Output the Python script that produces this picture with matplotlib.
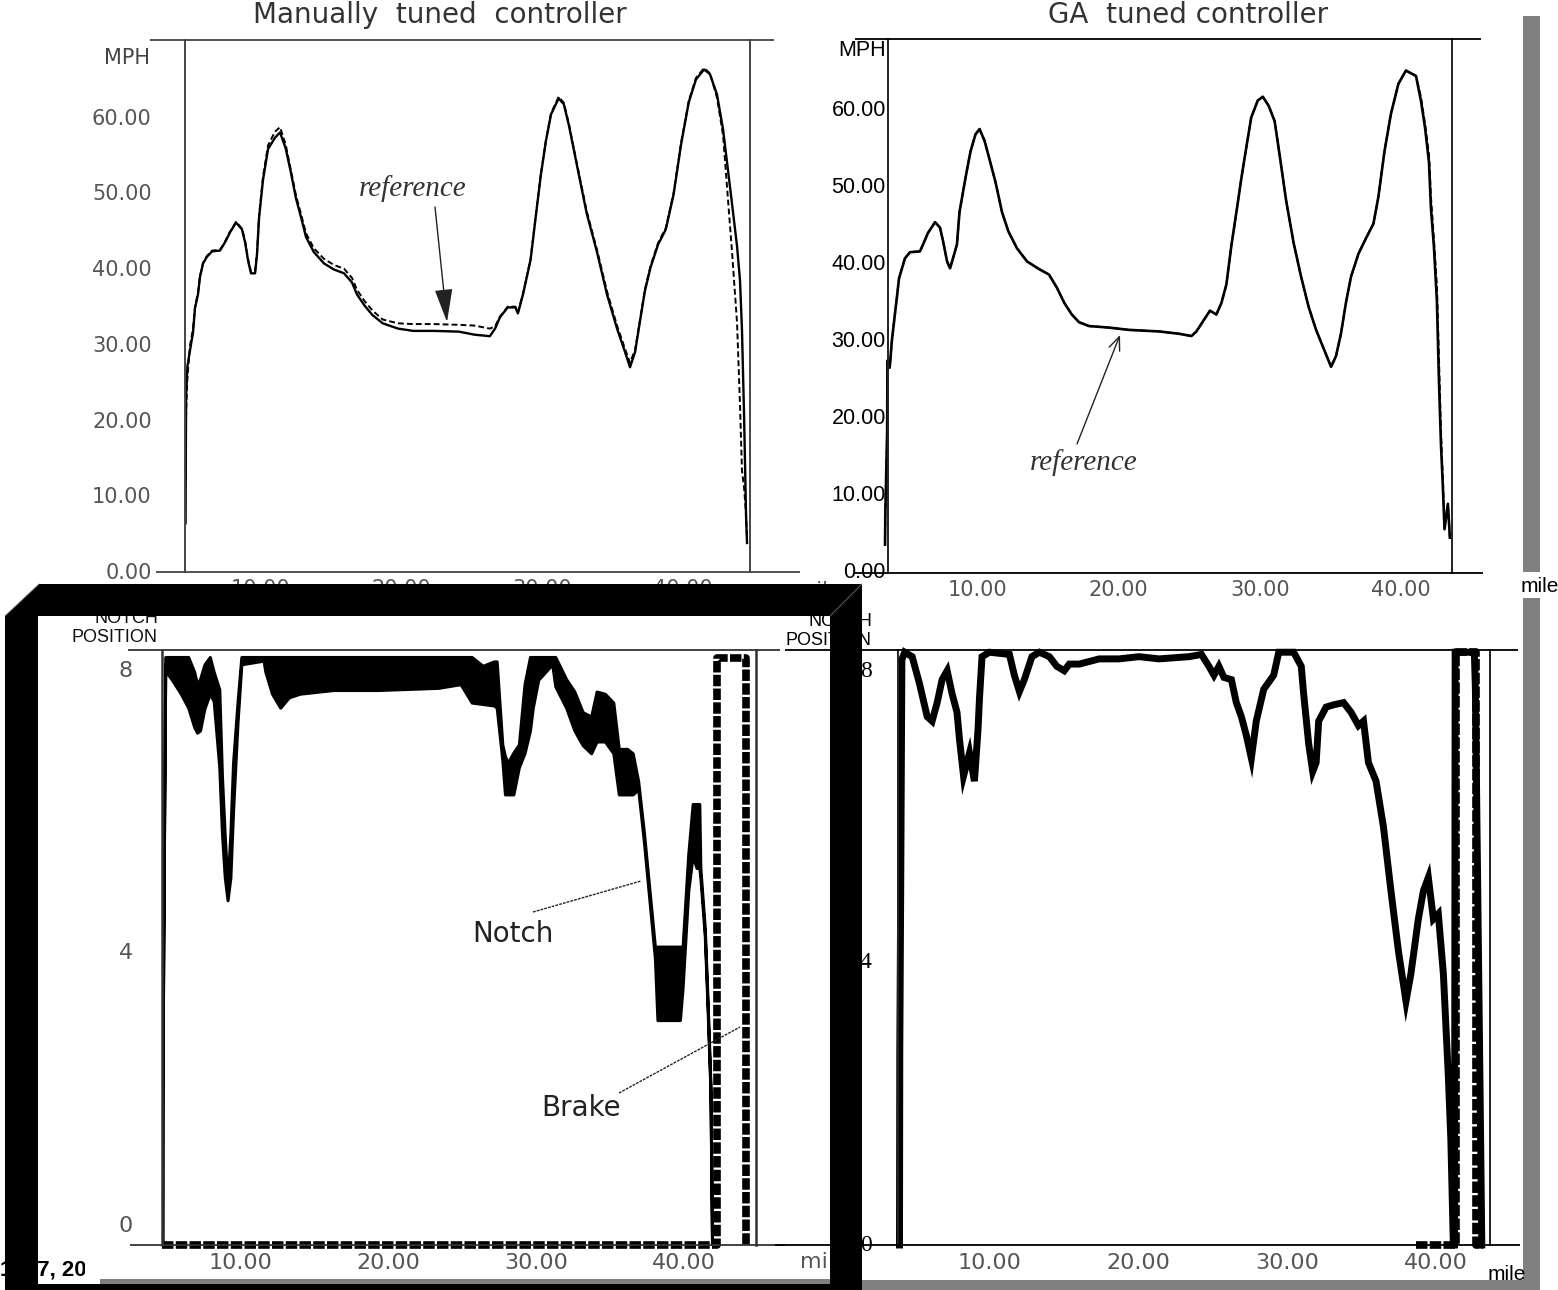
import matplotlib
matplotlib.use("Agg")
import matplotlib.pyplot as plt
from matplotlib.patches import Polygon, Rectangle
from matplotlib.transforms import Bbox, TransformedBbox

# ---------------- data ----------------
# Manually tuned controller: speed (solid) and reference (dashed), miles / MPH
man_mile = [4.72, 4.74, 4.76, 4.85, 5.04, 5.25, 5.39, 5.60, 5.74, 5.96, 6.24, 6.60, 7.16, 7.52, 7.87,
            8.30, 8.72, 8.94, 9.15, 9.36, 9.65, 9.79, 9.93, 10.21, 10.57, 11.06, 11.42, 11.82, 12.18,
            12.55, 12.91, 13.26, 13.82, 14.54, 15.25, 15.96, 16.52, 16.88, 17.43, 17.97, 18.70, 19.79,
            20.85, 22.32, 24.11, 25.21, 26.30, 26.67, 27.02, 27.57, 28.11, 28.29, 28.65, 29.19, 29.55,
            29.91, 30.28, 30.64, 31.18, 31.55, 31.91, 32.45, 33.17, 33.90, 34.61, 35.32, 35.89, 36.24,
            36.60, 36.95, 37.30, 37.70, 38.23, 38.78, 39.33, 39.86, 40.41, 40.92, 41.49, 41.91, 42.41,
            42.84, 43.48, 43.83, 44.04, 44.18, 44.33, 44.47, 44.54]
man_mph = [6.3, 16.0, 23.3, 27.0, 29.2, 31.5, 34.7, 36.5, 38.8, 40.6, 41.5, 42.2, 42.3, 43.4, 44.7,
           46.0, 45.1, 43.4, 41.0, 39.3, 39.3, 41.9, 46.6, 51.6, 55.7, 57.2, 57.9, 55.8, 52.7,
           49.2, 46.7, 44.1, 42.1, 40.6, 39.8, 39.3, 38.1, 36.5, 35.0, 33.8, 32.7, 32.0,
           31.7, 31.7, 31.6, 31.2, 31.0, 32.0, 33.5, 34.8, 34.8, 34.0, 36.5, 41.1, 46.7,
           52.2, 56.8, 60.3, 62.4, 61.6, 58.8, 53.8, 47.2, 42.1, 36.5, 32.0, 28.9, 26.9,
           28.9, 33.0, 37.0, 40.1, 43.1, 45.1, 49.7, 56.3, 61.9, 64.9, 66.2, 65.6, 62.9,
           58.3, 48.4, 42.9, 38.4, 31.9, 20.5, 7.3, 3.7]
man_ref_mph = [12.0, 17.0, 21.0, 25.5, 29.8, 32.0, 34.9, 36.7, 38.9, 40.7, 41.6, 42.3, 42.4, 43.5, 44.8,
               46.1, 45.2, 43.6, 41.2, 39.5, 39.5, 42.0, 46.8, 52.0, 56.2, 58.0, 58.6, 56.3, 53.0,
               49.6, 47.1, 44.6, 42.6, 41.2, 40.4, 39.9, 38.7, 37.1, 35.6, 34.4, 33.2, 32.7,
               32.6, 32.6, 32.5, 32.4, 32.0, 32.3, 33.6, 34.9, 34.9, 34.2, 36.6, 41.2, 46.8,
               52.3, 56.9, 60.4, 62.6, 61.8, 59.0, 54.0, 47.5, 42.4, 36.9, 32.4, 29.3, 27.5,
               29.2, 33.2, 37.2, 40.3, 43.3, 45.3, 49.9, 56.5, 62.1, 65.1, 66.4, 65.7, 62.5,
               57.5, 42.0, 32.8, 22.0, 13.3, 11.0, 7.5, 4.0]

# GA tuned controller: speed (solid) and reference (dashed)
ga_mile = [3.47, 3.49, 3.62, 3.64, 3.80, 3.96, 4.18, 4.32, 4.46, 4.67, 4.88, 5.24, 5.94, 6.16, 6.51,
           7.01, 7.36, 7.57, 7.86, 8.07, 8.28, 8.56, 8.74, 9.16, 9.52, 9.87, 10.16, 10.51, 10.86,
           11.29, 11.75, 12.20, 12.81, 13.52, 14.37, 15.07, 15.63, 16.16, 16.69, 17.20, 17.90, 19.32,
           20.74, 22.86, 24.27, 25.16, 25.51, 26.04, 26.47, 26.92, 27.28, 27.63, 27.98, 28.34, 28.69,
           29.04, 29.39, 29.85, 30.21, 30.63, 31.05, 31.44, 31.86, 32.39, 32.92, 33.45, 33.98, 34.51,
           35.04, 35.39, 35.74, 36.09, 36.45, 36.98, 37.51, 38.04, 38.39, 38.82, 39.28, 39.81, 40.34,
           41.05, 41.40, 41.69, 41.97, 42.11, 42.32, 42.53, 42.67, 42.82, 42.96, 43.07, 43.31, 43.45]
ga_mph = [3.3, 7.3, 17.9, 27.2, 26.3, 29.9, 33.4, 35.6, 37.9, 39.2, 40.5, 41.3, 41.4, 42.3, 43.8,
          45.2, 44.5, 42.8, 40.1, 39.2, 40.5, 42.3, 46.5, 50.9, 54.4, 56.6, 57.3, 55.8, 53.4,
          50.4, 46.5, 44.0, 41.8, 40.1, 39.1, 38.4, 36.7, 34.7, 33.2, 32.2, 31.7, 31.5,
          31.2, 31.0, 30.7, 30.4, 31.0, 32.5, 33.7, 33.2, 34.7, 37.1, 42.1, 46.5, 50.9,
          54.9, 58.8, 61.0, 61.5, 60.3, 58.3, 53.4, 48.0, 42.5, 38.1, 34.2, 31.2, 28.8,
          26.4, 27.8, 30.7, 34.7, 38.1, 41.1, 43.1, 45.0, 48.5, 54.4, 59.3, 63.2, 64.9,
          64.2, 61.0, 57.5, 53.0, 47.0, 42.0, 35.0, 25.0, 16.3, 10.5, 5.3, 8.6, 4.2]
ga_ref_mph = [3.3, 7.3, 17.9, 27.2, 26.3, 29.9, 33.4, 35.6, 37.9, 39.2, 40.5, 41.3, 41.4, 42.3, 43.8,
              45.2, 44.5, 42.8, 40.1, 39.2, 40.5, 42.3, 46.5, 50.9, 54.4, 56.6, 57.3, 55.8, 53.4,
              50.4, 46.5, 44.0, 41.8, 40.1, 39.1, 38.4, 36.7, 34.7, 33.2, 32.2, 31.7, 31.5,
              31.2, 31.0, 30.7, 30.4, 31.0, 32.5, 33.7, 33.2, 34.7, 37.1, 42.1, 46.5, 50.9,
              54.9, 58.8, 61.0, 61.5, 60.3, 58.3, 53.4, 48.0, 42.5, 38.1, 34.2, 31.2, 28.8,
              26.4, 27.8, 30.7, 34.7, 38.1, 41.1, 43.1, 45.0, 48.5, 54.4, 59.3, 63.2, 64.9,
              64.2, 61.5, 58.0, 54.0, 48.5, 43.0, 37.0, 28.0, 18.0, 11.5, 6.0, 8.6, 4.2]

# Manually tuned notch position: envelope of the oscillating notch (upper / lower)
notch_mile = [4.75, 4.76, 4.85, 4.95, 5.0, 5.4, 6.0, 6.5, 6.9, 7.1, 7.3, 7.6, 7.96, 8.22, 8.6, 8.78,
              8.97, 9.16, 9.35, 9.53, 9.83, 10.09, 11.59, 11.71, 12.16, 12.72, 13.3, 14.03, 16.28,
              19.28, 23.4, 24.9, 25.65, 26.4, 27.15, 27.34, 27.72, 27.9, 28.09, 28.47, 28.84, 29.22,
              29.59, 29.78, 30.15, 31.09, 31.3, 32.03, 32.59, 33.15, 33.72, 34.09, 34.65, 35.22,
              35.59, 36.15, 36.53, 36.9, 37.28, 38.03, 38.2, 39.72, 39.9, 40.28, 40.58, 40.84,
              41.03, 41.1, 41.4, 41.59, 41.78, 41.89]
notch_hi = [0, 2.2, 5.1, 8.0, 8.0, 8.0, 8.0, 8.0, 7.8, 7.63, 7.7, 7.9, 8.0, 7.8, 7.56, 6.38,
            5.56, 4.9, 5.6, 6.56, 7.38, 8.0, 8.0, 8.0, 8.0, 8.0, 8.0, 8.0, 8.0,
            8.0, 8.0, 8.0, 8.0, 7.88, 7.94, 7.94, 6.81, 6.65, 6.56, 6.7, 6.81, 7.63,
            8.0, 8.0, 8.0, 8.0, 8.0, 7.7, 7.53, 7.25, 7.19, 7.53, 7.5, 7.38,
            6.75, 6.75, 6.69, 6.31, 5.63, 4.06, 4.06, 4.06, 4.06, 5.31, 6.0, 6.0,
            6.0, 5.13, 4.31, 3.31, 2.19, 0]
notch_lo = [0, 2.2, 5.1, 7.9, 7.8, 7.69, 7.5, 7.31, 7.05, 6.97, 7.0, 7.3, 7.5, 7.4, 6.5, 5.6,
            5.0, 4.69, 5.0, 5.9, 7.1, 7.9, 7.95, 7.8, 7.5, 7.31, 7.45, 7.5, 7.55,
            7.55, 7.58, 7.63, 7.38, 7.36, 7.34, 7.31, 6.6, 6.13, 6.13, 6.13, 6.5, 6.69,
            7.0, 7.31, 7.69, 7.9, 7.6, 7.31, 7.0, 6.8, 6.69, 6.85, 6.85, 6.69,
            6.13, 6.13, 6.13, 6.2, 5.5, 3.9, 3.06, 3.06, 3.5, 4.81, 5.3, 5.13,
            5.13, 5.0, 4.2, 3.2, 2.1, 0]
brake_man_mile = [4.73, 42.2, 42.2, 44.2, 44.2]
brake_man = [0, 0, 7.98, 7.98, 0]

# GA tuned notch position
ga_notch_mile = [3.96, 3.98, 4.05, 4.12, 4.31, 4.81, 5.31, 5.82, 6.15, 6.49, 6.82, 7.16, 7.49, 7.82,
                 7.99, 8.26, 8.66, 8.99, 9.23, 9.33, 9.5, 10.0, 11.34, 11.67, 12.01, 12.34, 12.85,
                 13.35, 14.02, 14.52, 15.02, 15.36, 16.03, 17.37, 18.7, 20.04, 21.38, 23.39, 24.23,
                 24.73, 25.07, 25.4, 25.74, 26.24, 26.57, 26.91, 27.24, 27.58, 27.91, 28.41, 29.08,
                 29.42, 30.42, 30.93, 31.09, 31.43, 31.7, 31.93, 32.1, 32.6, 33.1, 33.77, 34.27,
                 34.77, 35.11, 35.44, 35.95, 36.45, 36.95, 37.45, 37.96, 38.29, 38.79, 39.13, 39.46,
                 39.8, 40.13, 40.47, 40.8, 40.97, 41.14, 41.22, 41.26, 42.55, 42.62, 42.95, 43.05]
ga_notch = [0, 2.6, 5.1, 7.9, 8.0, 7.94, 7.57, 7.13, 7.07, 7.32, 7.63, 7.75, 7.44, 7.19,
            6.82, 6.33, 6.64, 6.26, 6.95, 7.38, 7.94, 8.0, 7.97, 7.69, 7.47, 7.63, 7.94,
            8.0, 7.94, 7.81, 7.75, 7.84, 7.84, 7.91, 7.91, 7.94, 7.91, 7.94, 7.97,
            7.81, 7.69, 7.81, 7.66, 7.63, 7.32, 7.13, 6.88, 6.57, 7.07, 7.5, 7.69,
            8.0, 8.0, 7.81, 7.44, 6.76, 6.39, 6.51, 7.07, 7.26, 7.29, 7.32, 7.19,
            7.01, 7.07, 6.51, 6.26, 5.64, 4.78, 3.97, 3.29, 3.66, 4.4, 4.78, 4.96,
            4.4, 4.47, 3.66, 2.29, 1.43, 0, 0, 8.0, 8.0, 7.5, 1.8, 0]
brake_ga_mile = [38.6, 41.3, 41.3, 42.68, 42.68, 43.1]
brake_ga = [0, 0, 8.0, 8.0, 0, 0]

speed_ticks = [0, 10, 20, 30, 40, 50, 60]
mile_ticks = [10, 20, 30, 40]

# ---------------- figure ----------------
W, H = 1558, 1290
fig = plt.figure(figsize=(W / 100, H / 100), dpi=100)
fig.patch.set_facecolor("white")
GREY = "#555555"


def px_axes(x0, y0, x1, y1):
    return fig.add_axes([x0 / W, 1 - y1 / H, (x1 - x0) / W, (y1 - y0) / H], zorder=1)


def setup(ax, xlim, ylim, spine_color, lw=1.4):
    ax.set_xlim(*xlim)
    ax.set_ylim(*ylim)
    ax.patch.set_alpha(0)
    for s in ("top", "bottom"):
        ax.spines[s].set_visible(False)
    for s in ("left", "right"):
        ax.spines[s].set_color(spine_color)
        ax.spines[s].set_linewidth(lw)
    ax.tick_params(length=0)


# --- top-left: manually tuned speed
ax1 = px_axes(185, 40, 750, 572)
setup(ax1, (4.68, 44.75), (-0.13, 70.1), "#444444")
ax1.plot(man_mile, man_ref_mph, color="black", lw=1.4, ls=(0, (3, 1.6)))
ax1.plot(man_mile, man_mph, color="black", lw=1.7)
ax1.set_yticks(speed_ticks, [f"{v:.2f}" for v in speed_ticks], fontsize=15,
               family="DejaVu Sans", color=GREY)
ax1.set_xticks(mile_ticks, [f"{v:.2f}" for v in mile_ticks], fontsize=15,
               family="DejaVu Sans", color=GREY)
ax1.tick_params(axis="y", pad=24)
ax1.tick_params(axis="x", pad=5)

# --- top-right: GA tuned speed
ax2 = px_axes(888, 39, 1452, 573)
setup(ax2, (3.68, 43.6), (-0.39, 69.0), "#222222")
ax2.plot(ga_mile, ga_ref_mph, color="black", lw=1.4, ls=(0, (3, 1.6)), clip_on=False)
ax2.plot(ga_mile, ga_mph, color="black", lw=1.9, clip_on=False)
ax2.set_yticks(speed_ticks, [f"{v:.2f}" for v in speed_ticks], fontsize=15.5,
               family="Liberation Sans", color="black")
ax2.set_xticks(mile_ticks, [f"{v:.2f}" for v in mile_ticks], fontsize=15,
               family="DejaVu Sans", color=GREY)
ax2.tick_params(axis="y", pad=1.5)
ax2.tick_params(axis="x", pad=5)

# --- bottom-left: manual notch / brake
ax3 = px_axes(162, 650, 756, 1245)
setup(ax3, (4.73, 44.86), (0, 8.095), "#333333", lw=1.8)
ax3.fill_between(notch_mile, notch_lo, notch_hi, facecolor="black", edgecolor="black", lw=2.2)
ax3.plot(brake_man_mile, brake_man, color="black", lw=5.5, ls=(0, (1.5, 0.3)),
         dash_capstyle="butt", clip_on=False)
ax3.set_yticks([0.29, 4.0, 7.84], ["0", "4", "8"], fontsize=16, family="DejaVu Sans", color=GREY)
ax3.set_xticks(mile_ticks, [f"{v:.2f}" for v in mile_ticks], fontsize=16,
               family="DejaVu Sans", color=GREY)
ax3.tick_params(axis="y", pad=21)
ax3.tick_params(axis="x", pad=6)

# --- bottom-right: GA notch / brake
ax4 = px_axes(898, 650, 1490, 1245)
setup(ax4, (3.86, 43.6), (0, 8.03), "#222222")
ax4.plot(brake_ga_mile, brake_ga, color="black", lw=5.5, ls=(0, (1.5, 0.3)),
         dash_capstyle="butt", clip_on=False)
ax4.plot(ga_notch_mile, ga_notch, color="black", lw=5, solid_joinstyle="miter", clip_on=False)
ax4.set_yticks([0.03, 3.85, 7.78], ["0", "4", "8"], fontsize=17, family="Liberation Serif",
               color="black")
ax4.set_xticks(mile_ticks, [f"{v:.2f}" for v in mile_ticks], fontsize=16,
               family="DejaVu Sans", color=GREY)
ax4.tick_params(axis="y", pad=19)
ax4.tick_params(axis="x", pad=6)

# ---------------- overlay (pixel coordinates) ----------------
ov = fig.add_axes([0, 0, 1, 1], zorder=10)
ov.set_xlim(0, W)
ov.set_ylim(H, 0)
ov.axis("off")


def hline(x0, x1, y, color="#333333", lw=1.3):
    ov.plot([x0, x1], [y, y], color=color, lw=lw, solid_capstyle="butt")


hline(150, 774, 40, "#444444")
hline(156, 800, 572, "#444444")
hline(855, 1481, 39, "black")
hline(855, 1483, 573, "black")
hline(128, 780, 650)
hline(130, 785, 1245)
hline(785, 1518, 650, "black")
hline(775, 1520, 1245, "black")

# titles
ov.text(440, 15, "Manually  tuned  controller", ha="center", va="center", fontsize=20,
        family="DejaVu Sans", color="#333333")
ov.text(1188, 15, "GA  tuned controller", ha="center", va="center", fontsize=20,
        family="DejaVu Sans", color="#333333")

# axis labels
ov.text(127, 58, "MPH", ha="center", va="center", fontsize=15, family="DejaVu Sans", color="#444444")
ov.text(886, 51, "MPH", ha="right", va="center", fontsize=15.5, family="Liberation Sans", color="black")
ov.text(796, 591, "mile", ha="left", va="center", fontsize=15, family="DejaVu Sans", color=GREY)
ov.text(1521, 587, "mile", ha="left", va="center", fontsize=15, family="Liberation Sans", color="black")
ov.text(800, 1262, "mile", ha="left", va="center", fontsize=16, family="DejaVu Sans", color=GREY)
ov.text(1488, 1274, "mile", ha="left", va="center", fontsize=15, family="Liberation Sans",
        color="black", zorder=25)
ov.text(158, 628, "NOTCH\nPOSITION", ha="right", va="center", fontsize=13, linespacing=1.15,
        family="Liberation Sans", color="#111111")
ov.text(872, 631, "NOTCH\nPOSITION", ha="right", va="center", fontsize=13, linespacing=1.15,
        family="Liberation Sans", color="black")

# annotations
ov.text(413, 189, "reference", ha="center", va="center", fontsize=21, style="italic",
        family="Liberation Serif", color="#333333")
ov.annotate("", xy=(447, 322), xytext=(435, 207),
            arrowprops=dict(arrowstyle="-|>,head_length=1.3,head_width=0.35", mutation_scale=16,
                            lw=1.0, color="#222222", shrinkA=0, shrinkB=0))
ov.text(1084, 463, "reference", ha="center", va="center", fontsize=21, style="italic",
        family="Liberation Serif", color="#333333")
ov.annotate("", xy=(1120, 335), xytext=(1077, 444),
            arrowprops=dict(arrowstyle="->,head_length=0.6,head_width=0.25", mutation_scale=16,
                            lw=1.0, color="#222222", shrinkA=0, shrinkB=0))
ov.text(513, 934, "Notch", ha="center", va="center", fontsize=20, family="DejaVu Sans", color="#222222")
ov.plot([533, 641], [912, 881], color="#222222", lw=1.0, ls=(0, (2, 0.8)))
ov.text(581, 1108, "Brake", ha="center", va="center", fontsize=20, family="DejaVu Sans", color="#222222")
ov.plot([619, 740], [1093, 1027], color="#222222", lw=1.0, ls=(0, (2, 0.8)))

# partly hidden caption text at the bottom-left
t = ov.text(0, 1270, "1997, 2000", ha="left", va="center", fontsize=16, fontweight="bold",
            family="Liberation Sans", color="black", zorder=15)
t.set_clip_box(TransformedBbox(Bbox([[0, 1240], [85, 1290]]), ov.transData))
t.set_clip_on(True)

# black bevelled frame
ov.add_patch(Polygon([(39, 584), (862, 584), (862, 1290), (830, 1290), (830, 616), (38, 616),
                      (38, 1290), (5, 1290), (5, 616)], closed=True, facecolor="black",
                     edgecolor="none", zorder=20))
ov.plot([39, 5], [584, 616], color="#777777", lw=0.6, zorder=21)
ov.plot([862, 830], [584, 616], color="#777777", lw=0.6, zorder=21)
ov.add_patch(Rectangle((38, 1284), 792, 6, facecolor="black", edgecolor="none", zorder=20))
ov.add_patch(Rectangle((100, 1279), 730, 5, facecolor="#808080", edgecolor="none", zorder=20))
# grey scan borders
ov.add_patch(Rectangle((862, 1280), 678, 10, facecolor="#808080", edgecolor="none", zorder=20))
ov.add_patch(Rectangle((1523, 16), 17, 556, facecolor="#808080", edgecolor="none", zorder=20))
ov.add_patch(Rectangle((1523, 598), 17, 692, facecolor="#808080", edgecolor="none", zorder=20))

fig.savefig("out.png", dpi=100, facecolor="white")
